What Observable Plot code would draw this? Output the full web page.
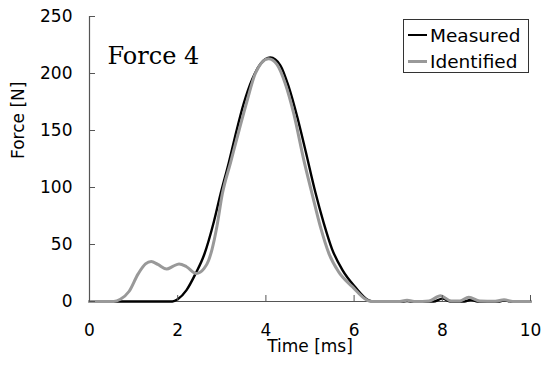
<!DOCTYPE html>
<html>
<head>
<meta charset="utf-8">
<script src="https://cdn.jsdelivr.net/npm/d3@7"></script>
<script src="https://cdn.jsdelivr.net/npm/@observablehq/plot@0.6"></script>
<style>
  html, body { margin: 0; padding: 0; background: #fff; }
  #wrap { position: relative; width: 545px; height: 367px; }
  #legend { position: absolute; left: 403px; top: 19px; width: 124px; height: 52px;
    border: 1px solid #333; background: #fff; font-family: "DejaVu Sans", sans-serif; font-size: 18.5px; }
  .row { position: absolute; left: 4px; height: 24px; display: flex; align-items: center; }
  .sw { width: 19px; height: 0; margin-right: 3px; }
</style>
</head>
<body>
<div id="wrap"></div>
<script>
// ---- data ----
const measuredTime  = [0, 1.88, 2.0, 2.2, 2.4, 2.6, 2.82, 2.97, 3.16, 3.31, 3.5, 3.69, 3.88, 4.1, 4.33, 4.52, 4.71, 4.9, 5.12, 5.31, 5.5, 5.73, 6.03, 6.33, 6.45, 7.1, 7.2, 7.3, 7.8, 8.0, 8.2, 8.5, 8.65, 8.8, 9.3, 9.4, 9.55, 10];
const measuredForce = [0, 0, 2, 10, 24, 41, 70, 94, 122, 146, 174, 195, 208.5, 214, 207, 188, 162, 132, 96, 69, 46, 28, 12.5, 1, 0, 0, 0.5, 0, 0, 2.5, 0, 0, 1.5, 0, 0, 1, 0, 0];

const identifiedTime  = [0, 0.55, 0.7, 0.9, 1.1, 1.27, 1.4, 1.55, 1.75, 1.9, 2.03, 2.2, 2.42, 2.6, 2.7, 2.78, 2.89, 3.01, 3.2, 3.39, 3.58, 3.76, 4.06, 4.25, 4.44, 4.63, 4.86, 5.05, 5.24, 5.43, 5.65, 5.96, 6.3, 6.4, 7.0, 7.2, 7.4, 7.7, 7.96, 8.2, 8.4, 8.6, 8.85, 9.2, 9.4, 9.6, 10];
const identifiedForce = [0, 0, 2, 9, 24, 33, 35, 32.5, 28.5, 31, 33, 30.5, 24.5, 29, 36, 46, 66, 94, 122, 150, 177, 200, 213, 208, 191, 165, 124, 94, 65, 42, 26, 13, 1, 0, 0, 1, 0, 0.5, 5, 0.5, 0.5, 3.8, 0.5, 0.2, 1.5, 0, 0];

const xTicks = [0, 2, 4, 6, 8, 10];
const yTicks = [0, 50, 100, 150, 200, 250];
const seriesNames = ["Measured", "Identified"];
const seriesColors = ["#000000", "#999999"];
const panelTitle = "Force 4";
const xLabel = "Time [ms]";
const yLabel = "Force [N]";

const measured = measuredTime.map((t, i) => ({t, f: measuredForce[i]}));
const identified = identifiedTime.map((t, i) => ({t, f: identifiedForce[i]}));

const chart = Plot.plot({
  width: 545,
  height: 367,
  marginLeft: 89,
  marginRight: 15,
  marginTop: 16,
  marginBottom: 66,
  x: {domain: [0, 10]},
  y: {domain: [0, 250]},
  style: {fontFamily: "DejaVu Sans, sans-serif", fontSize: "17px", color: "#000", background: "#fff", overflow: "visible"},
  marks: [
    Plot.ruleX([0], {stroke: "#555", strokeWidth: 1.2}),
    Plot.ruleY([0], {stroke: "#555", strokeWidth: 1.2}),
    Plot.line(measured, {x: "t", y: "f", stroke: seriesColors[0], strokeWidth: 2.4, curve: "monotone-x"}),
    Plot.line(identified, {x: "t", y: "f", stroke: seriesColors[1], strokeWidth: 3, curve: "monotone-x"}),
    Plot.axisY({ticks: yTicks, tickSize: -6, tickFormat: () => "", label: null, stroke: "#555"}),
    Plot.axisY({ticks: yTicks, tickSize: 0, tickPadding: 17, label: null, fontSize: 17}),
    Plot.axisX({ticks: xTicks, tickSize: -6, tickFormat: () => "", label: null, stroke: "#555"}),
    Plot.axisX({ticks: xTicks, tickSize: 0, tickPadding: 22, label: null, fontSize: 17}),
    Plot.text([panelTitle], {frameAnchor: "top-left", textAnchor: "start", dx: 18, dy: 30, fontSize: 24, fontFamily: "DejaVu Serif, serif", fill: "#000"}),
    Plot.text([xLabel], {frameAnchor: "bottom", dy: 50, fontSize: 17, fill: "#000"}),
    Plot.text([yLabel], {frameAnchor: "left", rotate: -90, dx: -71, fontSize: 17, fill: "#000"})
  ]
});

const wrap = document.getElementById("wrap");
wrap.appendChild(chart);

const legend = document.createElement("div");
legend.id = "legend";
seriesNames.forEach((name, i) => {
  const row = document.createElement("div");
  row.className = "row";
  row.style.top = (3 + i * 26) + "px";
  const sw = document.createElement("span");
  sw.className = "sw";
  sw.style.borderTop = (i === 0 ? "2.5px" : "3px") + " solid " + seriesColors[i];
  const tx = document.createElement("span");
  tx.textContent = name;
  row.appendChild(sw);
  row.appendChild(tx);
  legend.appendChild(row);
});
wrap.appendChild(legend);
</script>
</body>
</html>
